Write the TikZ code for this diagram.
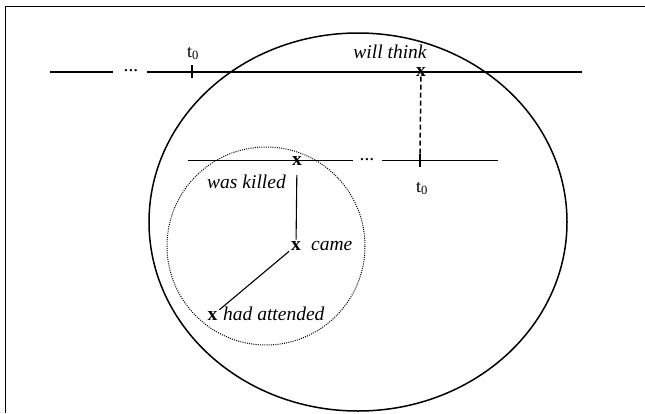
\documentclass[tikz,border=0pt]{standalone}
\usepackage{fontspec}
\setmainfont{Liberation Serif}
\begin{document}
\begin{tikzpicture}[x=1pt,y=-1pt,
  font=\fontsize{19.5}{23}\selectfont,
  every node/.style={inner sep=0pt},
  xmark/.style={font=\fontsize{19.5}{23}\selectfont\bfseries},
  lbl/.style={font=\fontsize{19.5}{23}\selectfont\itshape, anchor=base},
  tlbl/.style={font=\fontsize{18}{22}\selectfont},
  tline/.style={line width=1.1pt},
  tick/.style={line width=1.5pt}]
\useasboundingbox (0,0) rectangle (645,413);
% frame
\draw[line width=1.5pt] (645,6.5) -- (5.5,6.5) -- (5.5,413);
% big ellipse
\draw[line width=1.5pt] (358,222) ellipse [x radius=209, y radius=189];
% dotted circle
\draw[line width=1pt, dash pattern=on 1pt off 1.2pt] (266,246) circle (99);

% upper timeline
\coordinate (a1) at (50,72);
\coordinate (a2) at (113,72);
\node[anchor=base] (d1) at (131,71) {...};
\coordinate (a3) at (147,72);
\coordinate (a4) at (582,72);
\draw[tline] (a1) -- (a2);
\draw[tline] (a3) -- (a4);
\coordinate (k1a) at (192,65);
\coordinate (k1b) at (192,78);
\draw[tick] (k1a) -- (k1b);
\node[tlbl, anchor=base] (t1) at (193,57) {t\textsubscript{0}};
\node[lbl] (wt) at (390,58) {will think};
\node[xmark] (x1) at (421,72) {x};

% lower timeline
\coordinate (b1) at (188,160.5);
\coordinate (b2) at (353,160.5);
\node[anchor=base] (d2) at (367,160) {...};
\coordinate (b3) at (382,160.5);
\coordinate (b4) at (498,160.5);
\draw[tline] (b1) -- (b2);
\draw[tline] (b3) -- (b4);
\coordinate (k2a) at (420,154);
\coordinate (k2b) at (420,167);
\draw[tick] (k2a) -- (k2b);
\node[tlbl, anchor=base] (t2) at (422,192) {t\textsubscript{0}};
\node[xmark] (x2) at (297,161) {x};
\node[lbl] (wk) at (246.5,188) {was killed};

% dashed connector
\draw[line width=1.5pt, dash pattern=on 5pt off 3pt] (x1) -- (k2a);

% came
\node[xmark, anchor=base] (x3) at (296,250) {x};
\node[lbl, anchor=base west] (cm) at (311,250) {came};
% had attended
\node[xmark, anchor=base] (x4) at (212.5,320) {x};
\node[lbl, anchor=base west] (ha) at (223,320) {had attended};

\draw[tline, shorten <=14pt, shorten >=6pt] (x2.center) -- (x3.center);
\draw[tline, shorten <=9pt, shorten >=9pt] (x3.center) -- (x4.center);
\end{tikzpicture}
\end{document}
